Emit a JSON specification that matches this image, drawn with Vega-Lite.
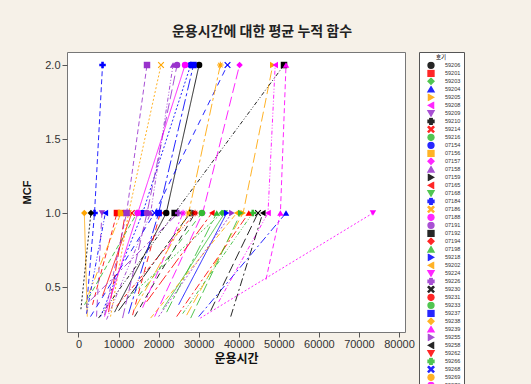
{
  "$schema": "https://vega.github.io/schema/vega-lite/v6.json",
  "autosize": {"type": "none"},
  "width": 338,
  "height": 280,
  "padding": {"left": 67, "top": 52, "right": 126, "bottom": 52},
  "background": "#f6f1e8",
  "title": {"text": "운용시간에 대한 평균 누적 함수", "font": "Noto Sans CJK KR", "fontSize": 14, "fontWeight": "bold", "color": "#222222", "anchor": "middle", "dx": 26, "offset": 13},
  "datasets": {
    "units": ["59206","59201","59203","59204","59205","59208","59209","59210","59214","59216","07154","07156","07157","07158","07159","07165","07168","07184","07186","07188","07191","07192","07194","07198","59218","59202","59224","59226","59230","59231","59233","59237","59238","59239","59255","59258","59262","59266","59268","59269","59273","59275","59277","59280","59282","59284"]
  },
  "data": {"values": [
    {"unit":"59206","step":0,"time":9000,"mcf":0.33},{"unit":"59206","step":1,"time":21900,"mcf":1},{"unit":"59206","step":2,"time":30100,"mcf":2},
    {"unit":"59201","step":0,"time":3500,"mcf":0.38},{"unit":"59201","step":1,"time":9600,"mcf":1},
    {"unit":"59203","step":0,"time":12000,"mcf":0.42},{"unit":"59203","step":1,"time":35800,"mcf":1},
    {"unit":"59204","step":0,"time":30000,"mcf":0.30},{"unit":"59204","step":1,"time":51800,"mcf":1},
    {"unit":"59205","step":0,"time":27000,"mcf":0.31},{"unit":"59205","step":1,"time":41100,"mcf":1},{"unit":"59205","step":2,"time":48500,"mcf":2},
    {"unit":"59208","step":0,"time":35000,"mcf":0.40},{"unit":"59208","step":1,"time":47300,"mcf":1},{"unit":"59208","step":2,"time":49100,"mcf":2},
    {"unit":"59209","step":0,"time":4500,"mcf":0.30},{"unit":"59209","step":1,"time":5850,"mcf":1},
    {"unit":"59210","step":0,"time":10000,"mcf":0.34},{"unit":"59210","step":1,"time":27900,"mcf":1},
    {"unit":"59214","step":0,"time":6000,"mcf":0.44},{"unit":"59214","step":1,"time":13300,"mcf":1},
    {"unit":"59216","step":0,"time":1500,"mcf":0.38},{"unit":"59216","step":1,"time":14600,"mcf":1},
    {"unit":"07154","step":0,"time":5500,"mcf":0.30},{"unit":"07154","step":1,"time":16000,"mcf":1},{"unit":"07154","step":2,"time":28000,"mcf":2},
    {"unit":"07156","step":0,"time":2500,"mcf":0.45},{"unit":"07156","step":1,"time":10600,"mcf":1},
    {"unit":"07157","step":0,"time":19000,"mcf":0.30},{"unit":"07157","step":1,"time":31000,"mcf":1},{"unit":"07157","step":2,"time":40200,"mcf":2},
    {"unit":"07158","step":0,"time":7000,"mcf":0.28},{"unit":"07158","step":1,"time":18000,"mcf":1},{"unit":"07158","step":2,"time":23600,"mcf":2},
    {"unit":"07159","step":0,"time":14000,"mcf":0.30},{"unit":"07159","step":1,"time":29100,"mcf":1},
    {"unit":"07165","step":0,"time":17000,"mcf":0.40},{"unit":"07165","step":1,"time":33300,"mcf":1},
    {"unit":"07168","step":0,"time":21000,"mcf":0.35},{"unit":"07168","step":1,"time":36500,"mcf":1},
    {"unit":"07184","step":0,"time":2000,"mcf":0.36},{"unit":"07184","step":1,"time":4000,"mcf":1},{"unit":"07184","step":2,"time":6000,"mcf":2},
    {"unit":"07186","step":0,"time":8000,"mcf":0.30},{"unit":"07186","step":1,"time":12500,"mcf":1},{"unit":"07186","step":2,"time":20600,"mcf":2},
    {"unit":"07188","step":0,"time":16000,"mcf":0.36},{"unit":"07188","step":1,"time":26100,"mcf":1},
    {"unit":"07191","step":0,"time":11000,"mcf":0.29},{"unit":"07191","step":1,"time":17100,"mcf":1},{"unit":"07191","step":2,"time":24600,"mcf":2},
    {"unit":"07192","step":0,"time":5000,"mcf":0.29},{"unit":"07192","step":1,"time":24000,"mcf":1},{"unit":"07192","step":2,"time":51300,"mcf":2},
    {"unit":"07194","step":0,"time":13500,"mcf":0.31},{"unit":"07194","step":1,"time":20400,"mcf":1},
    {"unit":"07198","step":0,"time":22000,"mcf":0.33},{"unit":"07198","step":1,"time":34500,"mcf":1},
    {"unit":"59218","step":0,"time":25000,"mcf":0.38},{"unit":"59218","step":1,"time":37000,"mcf":1},
    {"unit":"59202","step":0,"time":18000,"mcf":0.29},{"unit":"59202","step":1,"time":39500,"mcf":1},
    {"unit":"59224","step":0,"time":30400,"mcf":0.29},{"unit":"59224","step":1,"time":73500,"mcf":1},
    {"unit":"59226","step":0,"time":3000,"mcf":0.41},{"unit":"59226","step":1,"time":24900,"mcf":1},
    {"unit":"59230","step":0,"time":33000,"mcf":0.34},{"unit":"59230","step":1,"time":44800,"mcf":1},
    {"unit":"59231","step":0,"time":9500,"mcf":0.37},{"unit":"59231","step":1,"time":29100,"mcf":1},
    {"unit":"59233","step":0,"time":15000,"mcf":0.44},{"unit":"59233","step":1,"time":30800,"mcf":1},
    {"unit":"59237","step":0,"time":12500,"mcf":0.32},{"unit":"59237","step":1,"time":20000,"mcf":1},{"unit":"59237","step":2,"time":28700,"mcf":2},
    {"unit":"59238","step":0,"time":2200,"mcf":0.30},{"unit":"59238","step":1,"time":1450,"mcf":1},
    {"unit":"59239","step":0,"time":46800,"mcf":0.55},{"unit":"59239","step":1,"time":50400,"mcf":1},{"unit":"59239","step":2,"time":51800,"mcf":2},
    {"unit":"59255","step":0,"time":20000,"mcf":0.30},{"unit":"59255","step":1,"time":38300,"mcf":1},
    {"unit":"59258","step":0,"time":38000,"mcf":0.30},{"unit":"59258","step":1,"time":46000,"mcf":1},
    {"unit":"59262","step":0,"time":7500,"mcf":0.33},{"unit":"59262","step":1,"time":11700,"mcf":1},
    {"unit":"59266","step":0,"time":26000,"mcf":0.32},{"unit":"59266","step":1,"time":43500,"mcf":1},
    {"unit":"59268","step":0,"time":3000,"mcf":0.30},{"unit":"59268","step":1,"time":19000,"mcf":1},{"unit":"59268","step":2,"time":37200,"mcf":2},
    {"unit":"59269","step":0,"time":14000,"mcf":0.35},{"unit":"59269","step":1,"time":27500,"mcf":1},{"unit":"59269","step":2,"time":35400,"mcf":2},
    {"unit":"59273","step":0,"time":6500,"mcf":0.30},{"unit":"59273","step":1,"time":14800,"mcf":1},{"unit":"59273","step":2,"time":26600,"mcf":2},
    {"unit":"59275","step":0,"time":6500,"mcf":0.31},{"unit":"59275","step":1,"time":12000,"mcf":1},{"unit":"59275","step":2,"time":17100,"mcf":2},
    {"unit":"59277","step":0,"time":600,"mcf":0.35},{"unit":"59277","step":1,"time":3100,"mcf":1},
    {"unit":"59280","step":0,"time":24500,"mcf":0.30},{"unit":"59280","step":1,"time":42500,"mcf":1},
    {"unit":"59282","step":0,"time":28000,"mcf":0.29},{"unit":"59282","step":1,"time":40500,"mcf":1},
    {"unit":"59284","step":0,"time":2000,"mcf":0.32},{"unit":"59284","step":1,"time":6700,"mcf":1}
  ]},
  "encoding": {
    "x": {"field": "time", "type": "quantitative", "scale": {"domain": [-2870, 81500], "nice": false, "zero": false},
      "axis": {"values": [0,10000,20000,30000,40000,50000,60000,70000,80000], "format": "d", "title": "운용시간"}},
    "y": {"field": "mcf", "type": "quantitative", "scale": {"domain": [0.196, 2.088], "nice": false, "zero": false},
      "axis": {"values": [0.5,1,1.5,2], "format": ".1f", "title": "MCF", "titleFont": "Liberation Sans", "titleFontSize": 11}},
    "color": {"field": "unit", "type": "nominal", "title": "호기",
      "scale": {"domain": ["59206","59201","59203","59204","59205","59208","59209","59210","59214","59216","07154","07156","07157","07158","07159","07165","07168","07184","07186","07188","07191","07192","07194","07198","59218","59202","59224","59226","59230","59231","59233","59237","59238","59239","59255","59258","59262","59266","59268","59269","59273","59275","59277","59280","59282","59284"],
        "range": ["#000000","#ff0000","#33bb33","#0000ff","#ffa500","#ff00ff","#9932cc"]}}
  },
  "layer": [
    {"mark": {"type": "line", "strokeWidth": 1, "opacity": 0.85},
     "encoding": {
       "order": {"field": "step"},
       "strokeDash": {"field": "unit", "type": "nominal", "sort": null, "legend": null,
         "scale": {"range": [[1,0],[5,3],[2,2],[8,3,2,3],[10,4],[4,2,1,2,1,2],[6,5],[12,3,3,3]]}}
     }},
    {"mark": {"type": "point", "filled": true, "size": 42, "opacity": 1},
     "transform": [{"filter": "datum.mcf >= 1"}],
     "encoding": {
       "shape": {"field": "unit", "type": "nominal", "title": "호기",
         "scale": {"domain": ["59206","59201","59203","59204","59205","59208","59209","59210","59214","59216","07154","07156","07157","07158","07159","07165","07168","07184","07186","07188","07191","07192","07194","07198","59218","59202","59224","59226","59230","59231","59233","59237","59238","59239","59255","59258","59262","59266","59268","59269","59273","59275","59277","59280","59282","59284"],
           "range": ["circle","square","diamond","triangle-up","triangle-right","triangle-left","triangle-down","cross",
           "M-1,-0.75L-0.75,-1L0,-0.25L0.75,-1L1,-0.75L0.25,0L1,0.75L0.75,1L0,0.25L-0.75,1L-1,0.75L-0.25,0Z",
           "M-0.15,-1H0.15V-0.36L0.6,-0.81L0.81,-0.6L0.36,-0.15H1V0.15H0.36L0.81,0.6L0.6,0.81L0.15,0.36V1H-0.15V0.36L-0.6,0.81L-0.81,0.6L-0.36,0.15H-1V-0.15H-0.36L-0.81,-0.6L-0.6,-0.81L-0.15,-0.36Z"]}}
     }}
  ],
  "config": {
    "view": {"stroke": "#777777", "strokeWidth": 1, "fill": "#ffffff"},
    "axis": {"grid": false, "domain": false, "tickSize": 5, "tickColor": "#555555", "labelFont": "Liberation Sans", "labelFontSize": 11, "labelColor": "#333333", "labelPadding": 2,
      "titleFont": "Noto Sans CJK KR", "titleFontWeight": "bold", "titleFontSize": 12, "titleColor": "#111111"},
    "axisX": {"titlePadding": 4, "labelPadding": 1},
    "axisY": {"titlePadding": 12},
    "legend": {"orient": "right", "offset": 14, "padding": 3, "strokeColor": "#555555", "fillColor": "#ffffff",
      "titleFont": "Noto Sans CJK KR", "titleFontSize": 5.5, "titleFontWeight": "normal", "titleAnchor": "middle", "titlePadding": 1,
      "labelFont": "Liberation Sans", "labelFontSize": 5.5, "labelColor": "#333333", "labelOffset": 10, "symbolOffset": 5,
      "symbolSize": 34, "rowPadding": 0, "clipHeight": 7.7, "symbolLimit": 100}
  }
}
